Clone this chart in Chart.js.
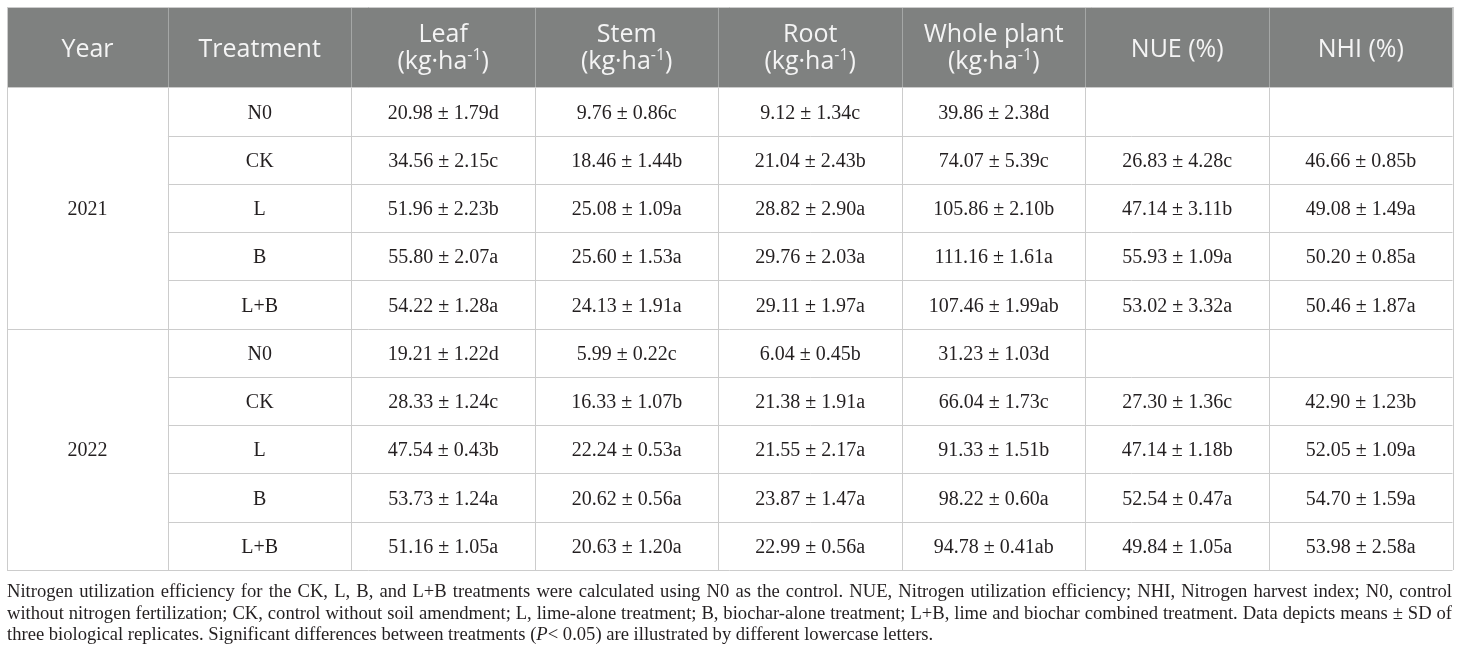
<!DOCTYPE html>
<html>
<head>
<meta charset="utf-8">
<script src="https://cdn.jsdelivr.net/npm/chart.js@4.4.1/dist/chart.umd.min.js"></script>
<style>
html, body { margin: 0; padding: 0; background: #fff; }
#wrap { position: relative; width: 1460px; height: 657px; overflow: hidden; }
#tbl { position: absolute; left: 0; top: 0; }
#note {
    position: absolute; left: 7px; top: 580px; width: 1445px;
    font-family: "Liberation Serif", "Times New Roman", serif;
    font-size: 18.6px; line-height: 21.5px; color: #231f20;
}
#note span { display: block; text-align: justify; text-align-last: justify; white-space: nowrap; }
#note span.last { text-align-last: left; }
</style>
</head>
<body>
<div id="wrap">
    <canvas id="tbl" width="1460" height="657"></canvas>
    <div id="note">
        <span>Nitrogen utilization efficiency for the CK, L, B, and L+B treatments were calculated using N0 as the control. NUE, Nitrogen utilization efficiency; NHI, Nitrogen harvest index; N0, control</span>
        <span>without nitrogen fertilization; CK, control without soil amendment; L, lime-alone treatment; B, biochar-alone treatment; L+B, lime and biochar combined treatment. Data depicts means ± SD of</span>
        <span class="last">three biological replicates. Significant differences between treatments (<i>P</i>&lt; 0.05) are illustrated by different lowercase letters.</span>
    </div>
</div>
<script>
// Tablo verileri
const headers = ['Year', 'Treatment', 'Leaf', 'Stem', 'Root', 'Whole plant', 'NUE (%)', 'NHI (%)'];
const headerUnit = [false, false, true, true, true, true, false, false];
const years = ['2021', '2022'];
const treatments = ['N0', 'CK', 'L', 'B', 'L+B'];

const leafMean = [20.98, 34.56, 51.96, 55.80, 54.22, 19.21, 28.33, 47.54, 53.73, 51.16];
const leafSd = [1.79, 2.15, 2.23, 2.07, 1.28, 1.22, 1.24, 0.43, 1.24, 1.05];
const leafSig = ['d', 'c', 'b', 'a', 'a', 'd', 'c', 'b', 'a', 'a'];

const stemMean = [9.76, 18.46, 25.08, 25.60, 24.13, 5.99, 16.33, 22.24, 20.62, 20.63];
const stemSd = [0.86, 1.44, 1.09, 1.53, 1.91, 0.22, 1.07, 0.53, 0.56, 1.20];
const stemSig = ['c', 'b', 'a', 'a', 'a', 'c', 'b', 'a', 'a', 'a'];

const rootMean = [9.12, 21.04, 28.82, 29.76, 29.11, 6.04, 21.38, 21.55, 23.87, 22.99];
const rootSd = [1.34, 2.43, 2.90, 2.03, 1.97, 0.45, 1.91, 2.17, 1.47, 0.56];
const rootSig = ['c', 'b', 'a', 'a', 'a', 'b', 'a', 'a', 'a', 'a'];

const wholeMean = [39.86, 74.07, 105.86, 111.16, 107.46, 31.23, 66.04, 91.33, 98.22, 94.78];
const wholeSd = [2.38, 5.39, 2.10, 1.61, 1.99, 1.03, 1.73, 1.51, 0.60, 0.41];
const wholeSig = ['d', 'c', 'b', 'a', 'ab', 'd', 'c', 'b', 'a', 'ab'];

const nueMean = [null, 26.83, 47.14, 55.93, 53.02, null, 27.30, 47.14, 52.54, 49.84];
const nueSd = [null, 4.28, 3.11, 1.09, 3.32, null, 1.36, 1.18, 0.47, 1.05];
const nueSig = [null, 'c', 'b', 'a', 'a', null, 'c', 'b', 'a', 'a'];

const nhiMean = [null, 46.66, 49.08, 50.20, 50.46, null, 42.90, 52.05, 54.70, 53.98];
const nhiSd = [null, 0.85, 1.49, 0.85, 1.87, null, 1.23, 1.09, 1.59, 2.58];
const nhiSig = [null, 'b', 'a', 'a', 'a', null, 'b', 'a', 'a', 'a'];

// Yerleşim (sütun genişlikleri, satır yüksekliği birimleri)
const colWidths = [0.877, 1, 1, 1, 1, 1, 1, 1];
const headerRows = 1.668;
const rowCount = years.length * treatments.length;

const colEdges = [0];
colWidths.forEach(w => colEdges.push(colEdges[colEdges.length - 1] + w));
const colCenter = i => (colEdges[i] + colEdges[i + 1]) / 2;
const xMax = colEdges[colEdges.length - 1];

function fmt(m, s, g) {
    if (m === null) return '';
    return m.toFixed(2) + ' \u00b1 ' + s.toFixed(2) + g;
}

const valueCols = [
    [leafMean, leafSd, leafSig],
    [stemMean, stemSd, stemSig],
    [rootMean, rootSd, rootSig],
    [wholeMean, wholeSd, wholeSig],
    [nueMean, nueSd, nueSig],
    [nhiMean, nhiSd, nhiSig]
];

const rowTreatments = years.flatMap(() => treatments);

const datasets = [
    {
        label: headers[0],
        cellText: years,
        data: years.map((yr, i) => ({ x: colCenter(0), y: i * treatments.length + treatments.length / 2 }))
    },
    {
        label: headers[1],
        cellText: rowTreatments,
        data: rowTreatments.map((t, i) => ({ x: colCenter(1), y: i + 0.5 }))
    }
];
valueCols.forEach(([m, s, g], k) => {
    datasets.push({
        label: headers[k + 2],
        cellText: m.map((v, i) => fmt(v, s[i], g[i])),
        data: m.map((v, i) => ({ x: colCenter(k + 2), y: i + 0.5 }))
    });
});

const headerBg = 'rgb(127,129,128)';
const gridColor = 'rgb(204,204,204)';
const textColor = '#231f20';
const headFont = '"Open Sans", "DejaVu Sans", sans-serif';
const bodyFont = '"Liberation Serif", "Times New Roman", serif';

const crisp = v => Math.round(v) + 0.5;

const tablePlugin = {
    id: 'tableCells',
    beforeDatasetsDraw(chart) {
        const { ctx, scales: { x, y } } = chart;
        const left = x.getPixelForValue(0), right = x.getPixelForValue(xMax);
        const top = y.getPixelForValue(-headerRows), hBottom = y.getPixelForValue(0);
        const bottom = y.getPixelForValue(rowCount);
        ctx.save();
        ctx.fillStyle = headerBg;
        ctx.fillRect(left, top, right - left, hBottom - top);

        ctx.lineWidth = 1;
        // yatay çizgiler
        ctx.strokeStyle = gridColor;
        for (let r = 0; r <= rowCount; r++) {
            const py = crisp(y.getPixelForValue(r));
            const fromX = (r % treatments.length === 0) ? left : x.getPixelForValue(colEdges[1]);
            ctx.beginPath();
            ctx.moveTo(fromX, py);
            ctx.lineTo(right, py);
            ctx.stroke();
        }
        // dikey çizgiler
        colEdges.forEach((e, i) => {
            const px = crisp(x.getPixelForValue(e));
            ctx.strokeStyle = gridColor;
            ctx.beginPath();
            ctx.moveTo(px, hBottom);
            ctx.lineTo(px, bottom);
            ctx.stroke();
            ctx.strokeStyle = (i === 0 || i === colEdges.length - 1) ? gridColor : 'rgba(255,255,255,0.3)';
            ctx.beginPath();
            ctx.moveTo(px, top);
            ctx.lineTo(px, hBottom);
            ctx.stroke();
        });
        ctx.strokeStyle = gridColor;
        ctx.beginPath();
        ctx.moveTo(left, crisp(top));
        ctx.lineTo(right, crisp(top));
        ctx.stroke();

        // başlık yazıları
        const mid = y.getPixelForValue(-headerRows / 2);
        ctx.fillStyle = '#f4f4f4';
        ctx.textBaseline = 'alphabetic';
        headers.forEach((h, i) => {
            const cx = x.getPixelForValue(colCenter(i));
            ctx.font = '25px ' + headFont;
            ctx.textAlign = 'center';
            if (!headerUnit[i]) {
                ctx.fillText(h, cx, mid + 9.5);
                return;
            }
            ctx.fillText(h, cx, mid - 5.5);
            // (kg·ha-1) üst simge ile
            const a = '(kg\u00b7ha', sup = '-1', b = ')';
            const wa = ctx.measureText(a).width, wb = ctx.measureText(b).width;
            ctx.font = '16px ' + headFont;
            const ws = ctx.measureText(sup).width;
            const sx = cx - (wa + ws + wb) / 2;
            const base = mid + 21.5;
            ctx.textAlign = 'left';
            ctx.font = '25px ' + headFont;
            ctx.fillText(a, sx, base);
            ctx.font = '16px ' + headFont;
            ctx.fillText(sup, sx + wa, base - 9);
            ctx.font = '25px ' + headFont;
            ctx.fillText(b, sx + wa + ws, base);
        });
        ctx.restore();
    },
    afterDatasetsDraw(chart) {
        const { ctx } = chart;
        ctx.save();
        ctx.fillStyle = textColor;
        ctx.font = '20px ' + bodyFont;
        ctx.textAlign = 'center';
        ctx.textBaseline = 'alphabetic';
        chart.data.datasets.forEach((ds, di) => {
            chart.getDatasetMeta(di).data.forEach((pt, i) => {
                const t = ds.cellText[i];
                if (t) ctx.fillText(t, pt.x, pt.y + 7);
            });
        });
        ctx.restore();
    }
};

const ctx = document.getElementById('tbl').getContext('2d');
const tableChart = new Chart(ctx, {
    type: 'scatter',
    data: { datasets: datasets },
    options: {
        responsive: false,
        animation: false,
        devicePixelRatio: 1,
        layout: { padding: { left: 7, right: 7.5, top: 7, bottom: 87 } },
        elements: { point: { radius: 0, hoverRadius: 0 } },
        plugins: { legend: { display: false }, tooltip: { enabled: false } },
        scales: {
            x: { type: 'linear', min: 0, max: xMax, display: false },
            y: { type: 'linear', min: -headerRows, max: rowCount, reverse: true, display: false }
        }
    },
    plugins: [tablePlugin]
});
</script>
</body>
</html>
